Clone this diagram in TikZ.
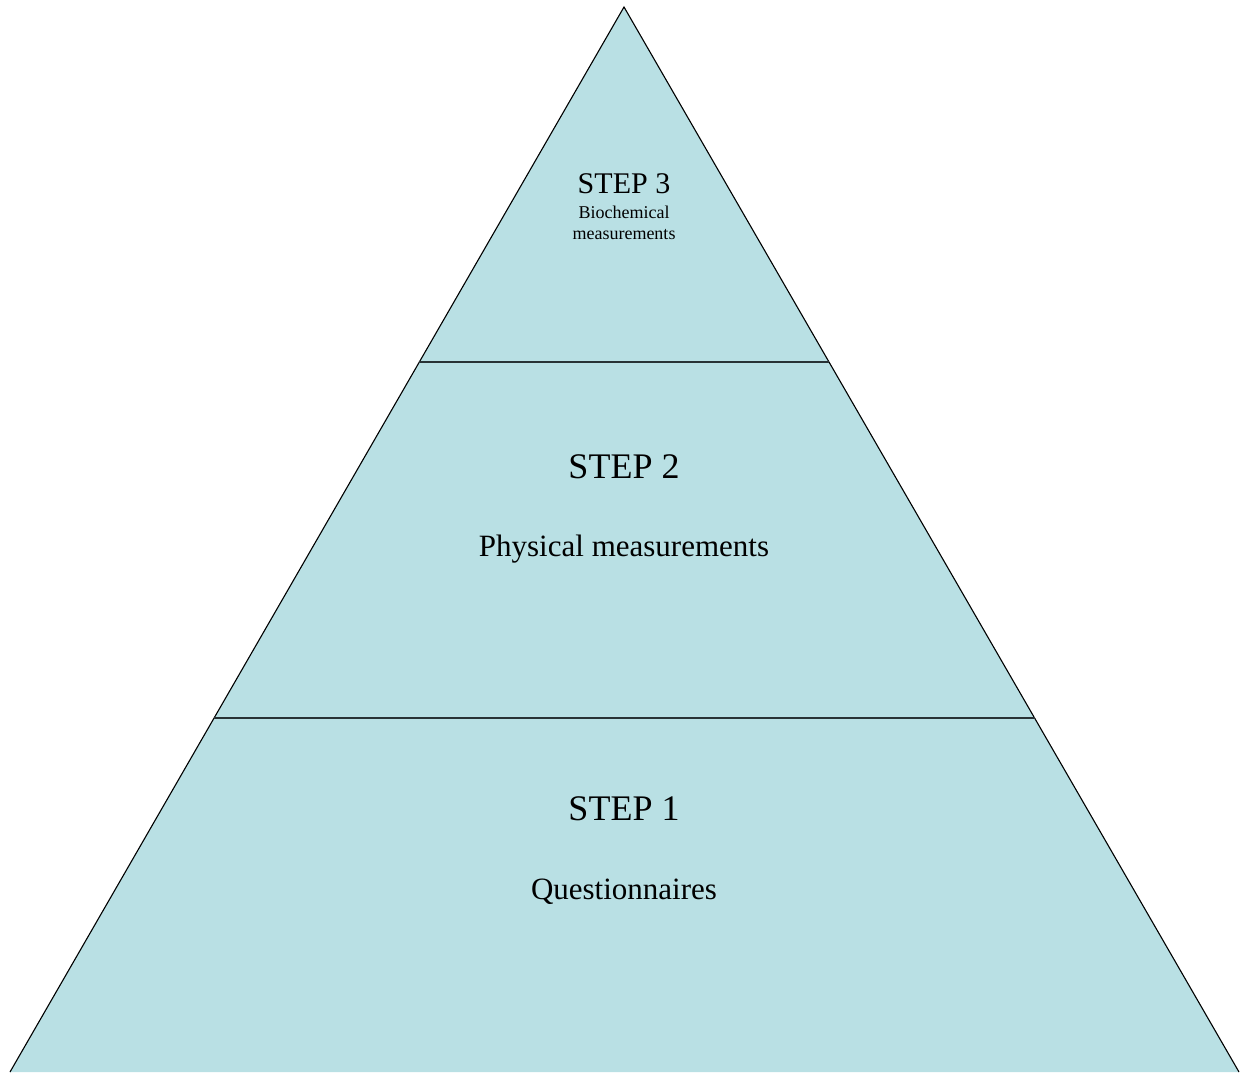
\documentclass[tikz,border=0pt]{standalone}
\usepackage{fontspec}
\setmainfont{Liberation Serif}
\definecolor{tierfill}{RGB}{185,224,228}
\definecolor{tierline}{RGB}{40,50,53}
\begin{document}
\begin{tikzpicture}[x=1pt,y=-1pt,
  divider/.style={draw=tierline,line width=2.2pt},
  steptitle/.style={anchor=base,inner sep=0pt},
]
\useasboundingbox (0,0) rectangle (1252,1072);
% pyramid corners
\coordinate (apex) at (624,7);
\coordinate (bl) at (10,1072);
\coordinate (br) at (1239,1072);
\fill[tierfill] (apex) -- (bl) -- (br) -- cycle;
\draw[black,line width=1.1pt] (bl) -- (apex) -- (br);
% tier dividers
\coordinate (d2l) at (419.3,362);
\coordinate (d2r) at (829.4,362);
\coordinate (d1l) at (214,718);
\coordinate (d1r) at (1034.6,718);
\draw[divider] (d2l) -- (d2r);
\draw[divider] (d1l) -- (d1r);
% labels
\node[steptitle,font=\fontsize{30}{30}\selectfont] (s3) at (624,193) {STEP 3};
\node[steptitle,font=\fontsize{18}{18}\selectfont] (s3a) at (624,218) {Biochemical};
\node[steptitle,font=\fontsize{18}{18}\selectfont] (s3b) at (624,239) {measurements};
\node[steptitle,font=\fontsize{36}{36}\selectfont] (s2) at (624,478) {STEP 2};
\node[steptitle,font=\fontsize{31}{31}\selectfont] (s2a) at (624,556) {Physical measurements};
\node[steptitle,font=\fontsize{36}{36}\selectfont] (s1) at (624,820) {STEP 1};
\node[steptitle,font=\fontsize{31}{31}\selectfont] (s1a) at (624,899) {Questionnaires};
\end{tikzpicture}
\end{document}
